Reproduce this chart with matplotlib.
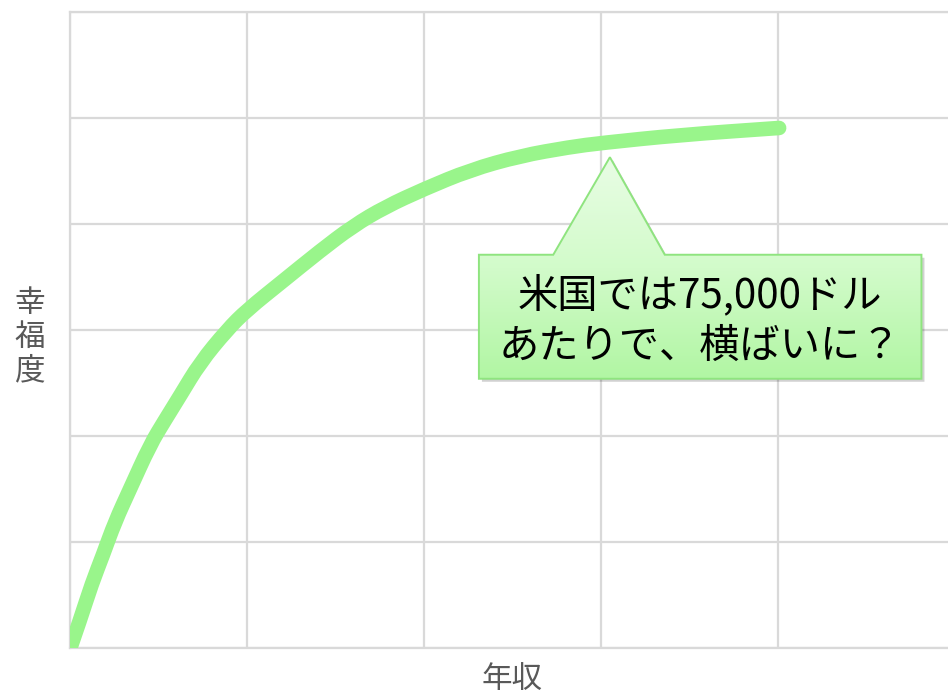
import numpy as np
import matplotlib
matplotlib.use('Agg')
import matplotlib.pyplot as plt
from matplotlib.path import Path
from matplotlib.patches import PathPatch
from matplotlib.transforms import offset_copy

plt.rcParams['font.family'] = ['Noto Sans CJK JP', 'DejaVu Sans']

# income (grid columns) vs happiness (grid rows)
income = [0.006, 0.056, 0.124, 0.186, 0.254, 0.339, 0.452, 0.537, 0.621, 0.734,
          0.887, 1.0, 1.203, 1.412, 1.599, 1.78, 2.0, 2.26, 2.542, 2.825,
          3.0, 3.446, 4.006]
happiness = [0.019, 0.26, 0.61, 0.877, 1.189, 1.5, 1.915, 2.151, 2.377, 2.689,
             3.0, 3.189, 3.462, 3.745, 3.981, 4.16, 4.33, 4.509, 4.642, 4.726,
             4.764, 4.84, 4.906]

x_ticks = [0, 1, 2, 3, 4]
y_ticks = [0, 1, 2, 3, 4, 5, 6]

callout_text = '米国では75,000ドル\nあたりで、横ばいに？'
x_label = '年収'
y_label = '幸\n福\n度'


def smooth_path(xs, ys):
    # quadratic segments between midpoints, like a smoothed line chart
    pts = list(zip(xs, ys))
    verts = [pts[0]]
    codes = [Path.MOVETO]
    for i in range(1, len(pts) - 1):
        mid = ((pts[i][0] + pts[i + 1][0]) / 2, (pts[i][1] + pts[i + 1][1]) / 2)
        verts += [pts[i], mid]
        codes += [Path.CURVE3, Path.CURVE3]
    verts.append(pts[-1])
    codes.append(Path.LINETO)
    return Path(verts, codes)


W, H = 948, 699
fig = plt.figure(figsize=(W / 100, H / 100), dpi=100)
ax = fig.add_axes([70 / W, (H - 648) / H, (W - 70) / W, (648 - 12) / H])

grid_color = '#d9d9d9'
ax.set_xlim(0, 4.96)
ax.set_ylim(0, 6)
ax.set_xticks(x_ticks)
ax.set_yticks(y_ticks)
ax.tick_params(length=0, labelbottom=False, labelleft=False)
ax.grid(True, color=grid_color, linewidth=1.6)
ax.set_axisbelow(True)
for side in ['left', 'top', 'bottom']:
    ax.spines[side].set_color(grid_color)
    ax.spines[side].set_linewidth(1.6)
ax.spines['right'].set_visible(False)

curve = PathPatch(smooth_path(income, happiness), facecolor='none',
                  edgecolor='#99f58b', linewidth=10.5, capstyle='round',
                  joinstyle='round', zorder=3)
ax.add_patch(curve)

# callout bubble: box plus pointer
x0, x1, y0, y1 = 2.31, 4.81, 2.54, 3.71
tip = (3.05, 4.63)
verts = [(x0, y0), (x1, y0), (x1, y1), (3.36, y1), tip, (2.73, y1), (x0, y1), (x0, y0)]
codes = [Path.MOVETO] + [Path.LINETO] * 6 + [Path.CLOSEPOLY]
bubble = Path(verts, codes)

shadow = PathPatch(bubble, facecolor='black', edgecolor='none', alpha=0.18,
                   transform=offset_copy(ax.transData, fig=fig, x=3, y=-3, units='dots'),
                   zorder=4)
ax.add_patch(shadow)

outline = PathPatch(bubble, facecolor='none', edgecolor='#8fe47f', linewidth=1.4, zorder=6)
ax.add_patch(outline)

grad = np.linspace(0, 1, 256)[:, None]
cmap = matplotlib.colors.LinearSegmentedColormap.from_list(
    'bubble', ['#b1f6a3', '#d2fbca', '#e9fde5'])
img = ax.imshow(grad, cmap=cmap, origin='lower', aspect='auto',
                extent=(x0, x1, y0, tip[1]), zorder=5)
img.set_clip_path(PathPatch(bubble, transform=ax.transData))
ax.set_xlim(0, 4.96)
ax.set_ylim(0, 6)

ax.text((x0 + x1) / 2, 3.09, callout_text, ha='center', va='center',
        fontsize=29, color='#000000', linespacing=1.3, zorder=7)

fig.text(30 / W, 1 - 337 / H, y_label, ha='center', va='center',
         fontsize=22, color='#595959', linespacing=1.1)
fig.text(512 / W, 1 - 680 / H, x_label, ha='center', va='center',
         fontsize=22, color='#595959')

fig.savefig('out.png', dpi=100)
